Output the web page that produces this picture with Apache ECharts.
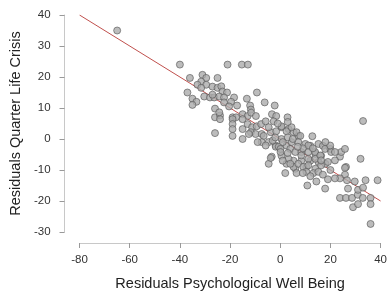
<!DOCTYPE html>
<html>
<head>
<meta charset="utf-8">
<script src="https://cdn.jsdelivr.net/npm/echarts@6/dist/echarts.min.js"></script>
<style>
  html, body { margin: 0; padding: 0; background: #fff; }
  #chart { width: 390px; height: 296px; }
</style>
</head>
<body>
<div id="chart"></div>
<script>
// residual pairs [well being, quarter life crisis]
const points = [
  [-65,35],[-40,24],[-21,24],[-15.3,24],[-12.9,24],
  [-36,19.7],[-31,20.7],[-29.5,19.7],[-25,19.7],[-31.5,18.5],[-33,17.5],[-29.5,17.5],[-27,16.9],[-25,16.5],[-23.5,17],[-23,15.3],[-21.2,15],[-37,15],[-31.5,16.5],
  [-35,13],[-33.4,12],[-35,11],[-30.3,13.7],[-28,13.4],[-26.3,13.4],[-24.3,13.7],[-22.4,13.4],[-27,14.3],[-18.4,13.4],[-13.3,13],[-9.3,15],
  [-22.4,11.8],[-19.6,12],[-17.2,10.8],[-20.4,10.5],[-6.2,11.8],[-2.2,10.8],[-12,10.8],[-11.7,9.5],[-26,9.8],
  [-26,7],[-24,7.6],[-24,6.4],[-24.3,8.6],[-26,1.9],[-19,7],[-17.6,7],[-15,8],[-13,7.4],[-11.6,8.5],[-9.7,7.4],[-3.3,8],[-1.6,7.4],[2.9,7],[-15,6.4],[-19,6.4],
  [-19,4.8],[-19,3.2],[-19,1],[-15,0],[-15,3.2],[-13,4.8],[-11.2,3.8],[-9.4,4.1],[-7.6,4.8],[-5.8,5.7],[-2.6,5.7],[-11.7,2.2],[-9.8,1.6],[-7.4,1.6],[-12.5,1.6],[-6.6,1],
  [-3.8,2.2],[-1.6,2.5],[0.5,3.8],[3.3,3.2],[5.3,2.2],[7.2,1],[12.8,0.9],[33,5.8],[-4.6,3.8],[2.5,2.5],[4.5,3.8],[6.5,2.2],[0.5,4.1],[8,1],
  [-4.6,-1],[-1.8,-2.1],[-7.4,-1],[-5.8,-2.1],[0.5,0],[-1.8,-2.5],[-0.6,-2.5],[0.1,-3.2],[2.5,-2.1],[-3.4,-5.7],[-4.6,-8],[0.5,-5.4],[2.5,-8],
  [4.5,-1],[7.2,-1],[10,-1.6],[12,-2.2],[15.2,-1.6],[17,-2.2],[17.9,-3.2],[20,-3.2],[20.3,-4.2],[23.8,-5.7],[26.2,-9],[4,-3.2],[6,-4.2],[8.4,-4.2],[11.2,-4.2],[14,-4.8],[16.3,-5.4],
  [5.3,-7],[8.4,-7],[12,-7],[15.2,-7.4],[18,-8],[10.4,-9],[14,-9.6],[6,-9.6],
  [-3.8,-6.1],[2,-11],[0.1,-4.2],[3.3,-6.4],[5.3,-9],[6.5,-11],[7.2,-8],[9.2,-9],[10.4,-10.6],[10.8,-15],[14.4,-13.7],[13.2,-11],[15.2,-10.6],[17.9,-16],[16.3,-8.5],
  [19,-7.4],[21.8,-6.9],[25.8,-9.3],[25.8,-11.5],[23.8,-12.7],[21.8,-12.7],[19,-13],[26.6,-13.3],[29.7,-13.7],[27,-16],[23.8,-19],[26.2,-19],[28.6,-19],[30.9,-18],[32.9,-19],
  [31,-16.4],[33,-15.7],[36,-19],[36,-21],[29,-22],[31,-21],[36,-27.4],[34,-13.3],[38.8,-13.3],[32,-6.4],[24.3,-4.2],[25.8,-3.2],[21.8,-4.2],[19.9,-2.1],[18,-1],
  [11.2,-2.1],[13.9,-4.2],[11.2,-6.4],[8.4,-5.3],[11.2,-8.5],[14,-6.4],[16,-5.3],[16.3,-6.9],
  [-9,-1],[-3,-0.5],[3,0.5],[1,-1],[5,0],[-2,0.5],[3,5.5],[-1,5],[9,-3],[13,-3],[7,-2.5],[3,-4.5],[1,-7],[4,-8],[9,-11],[12,-12],[17,-11.5],[20,-10]
];

// fitted regression line end points
const fitX = [-80, 40];
const fitY = [40, -20];

const xTicks = [-80, -60, -40, -20, 0, 20, 40];
const yTicks = [-30, -20, -10, 0, 10, 20, 30, 40];

const chart = echarts.init(document.getElementById('chart'));

const axisFont = { fontFamily: 'Liberation Sans', fontSize: 11.5, color: '#333' };
const nameFont = { fontFamily: 'Liberation Sans', fontSize: 14.5, color: '#222' };

chart.setOption({
  animation: false,
  grid: { left: 79, right: 7, top: 15, bottom: 61 },
  xAxis: {
    type: 'value',
    min: xTicks[0],
    max: xTicks[xTicks.length - 1],
    interval: 20,
    offset: 11,
    name: 'Residuals Psychological Well Being',
    nameLocation: 'middle',
    nameGap: 33,
    nameTextStyle: nameFont,
    axisLine: { show: true, onZero: false, lineStyle: { color: '#c8c8c8', width: 1 } },
    axisTick: { show: true, length: 5, lineStyle: { color: '#999' } },
    axisLabel: Object.assign({ margin: 11 }, axisFont),
    splitLine: { show: false }
  },
  yAxis: {
    type: 'value',
    min: yTicks[0],
    max: yTicks[yTicks.length - 1],
    interval: 10,
    offset: 15,
    name: 'Residuals Quarter Life Crisis',
    nameLocation: 'middle',
    nameGap: 36,
    nameTextStyle: nameFont,
    axisLine: { show: true, onZero: false, lineStyle: { color: '#c8c8c8', width: 1 } },
    axisTick: { show: true, length: 5, lineStyle: { color: '#999' } },
    axisLabel: Object.assign({ margin: 14 }, axisFont),
    splitLine: { show: false }
  },
  series: [
    {
      type: 'line',
      data: fitX.map((x, i) => [x, fitY[i]]),
      showSymbol: false,
      lineStyle: { color: '#c0504d', width: 1 },
      z: 1
    },
    {
      type: 'scatter',
      data: points,
      symbolSize: 7,
      itemStyle: { color: '#ababab', borderColor: '#555', borderWidth: 0.8 },
      z: 2
    }
  ]
});
</script>
</body>
</html>
